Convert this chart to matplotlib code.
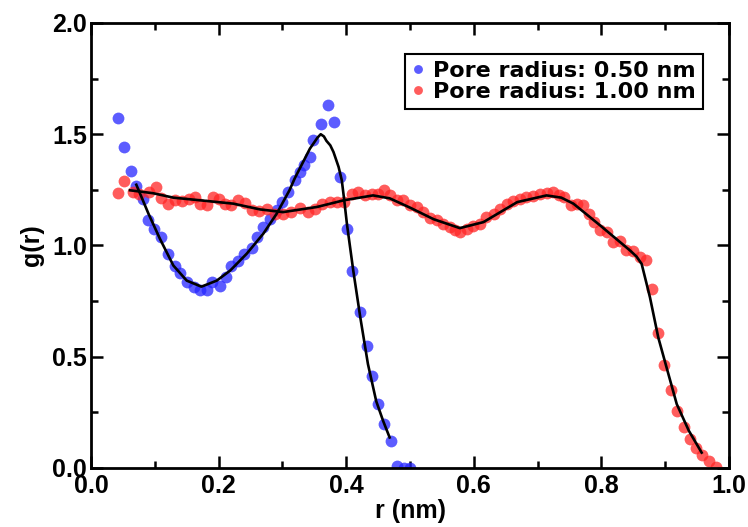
import matplotlib
matplotlib.use("Agg")
import matplotlib.pyplot as plt
from matplotlib.ticker import MultipleLocator, FormatStrFormatter

plt.rcParams['font.family'] = ['Liberation Sans', 'DejaVu Sans']
plt.rcParams['font.weight'] = 'bold'

# Pore radius 0.50 nm : data points
r_blue = [0.042, 0.051, 0.062, 0.071, 0.082, 0.090, 0.098, 0.110, 0.121, 0.131,
          0.140, 0.150, 0.161, 0.171, 0.182, 0.190, 0.202, 0.211, 0.220, 0.231,
          0.240, 0.252, 0.260, 0.269, 0.281, 0.291, 0.300, 0.309, 0.319, 0.327,
          0.333, 0.343, 0.348, 0.360, 0.372, 0.381, 0.390, 0.401, 0.409, 0.421,
          0.432, 0.440, 0.450, 0.459, 0.470, 0.479, 0.490, 0.500]
g_blue = [1.575, 1.443, 1.335, 1.266, 1.210, 1.113, 1.075, 1.037, 0.963, 0.910,
          0.875, 0.835, 0.812, 0.802, 0.802, 0.835, 0.817, 0.857, 0.910, 0.932,
          0.963, 0.990, 1.037, 1.082, 1.120, 1.158, 1.195, 1.240, 1.295, 1.330,
          1.360, 1.398, 1.473, 1.548, 1.631, 1.553, 1.308, 1.075, 0.887, 0.700,
          0.546, 0.414, 0.287, 0.197, 0.122, 0.009, 0.002, 0.002]

# Pore radius 1.00 nm : data points
r_red = [0.042, 0.051, 0.066, 0.075, 0.091, 0.102, 0.109, 0.121, 0.132, 0.142,
         0.153, 0.163, 0.171, 0.181, 0.191, 0.201, 0.210, 0.220, 0.231, 0.241,
         0.252, 0.263, 0.276, 0.289, 0.301, 0.314, 0.327, 0.340, 0.351, 0.362,
         0.375, 0.385, 0.396, 0.409, 0.419, 0.429, 0.440, 0.450, 0.459, 0.468,
         0.479, 0.489, 0.500, 0.511, 0.521, 0.532, 0.542, 0.552, 0.562, 0.570,
         0.578, 0.589, 0.599, 0.610, 0.619, 0.631, 0.641, 0.652, 0.662, 0.673,
         0.682, 0.693, 0.703, 0.714, 0.724, 0.734, 0.742, 0.752, 0.762, 0.771,
         0.780, 0.789, 0.798, 0.809, 0.818, 0.829, 0.839, 0.849, 0.860, 0.870,
         0.879, 0.889, 0.898, 0.909, 0.918, 0.929, 0.938, 0.948, 0.958, 0.968,
         0.979]
g_red = [1.237, 1.288, 1.240, 1.233, 1.240, 1.263, 1.213, 1.188, 1.203, 1.198,
         1.210, 1.218, 1.188, 1.183, 1.218, 1.210, 1.188, 1.183, 1.203, 1.192,
         1.160, 1.155, 1.165, 1.143, 1.143, 1.150, 1.168, 1.150, 1.165, 1.188,
         1.195, 1.195, 1.195, 1.233, 1.240, 1.225, 1.233, 1.233, 1.248, 1.225,
         1.203, 1.203, 1.180, 1.173, 1.150, 1.123, 1.113, 1.097, 1.082, 1.068,
         1.060, 1.075, 1.087, 1.097, 1.128, 1.143, 1.165, 1.188, 1.198, 1.210,
         1.218, 1.222, 1.233, 1.238, 1.240, 1.228, 1.218, 1.183, 1.188, 1.180,
         1.140, 1.105, 1.070, 1.060, 1.015, 1.022, 0.980, 0.975, 0.950, 0.935,
         0.805, 0.605, 0.464, 0.350, 0.254, 0.185, 0.129, 0.089, 0.058, 0.030,
         0.003]

# Fitted curves (black lines)
r_fit_blue = [0.071, 0.090, 0.108, 0.129, 0.150, 0.173, 0.197, 0.218, 0.244, 0.270,
              0.291, 0.311, 0.319, 0.343, 0.355, 0.360, 0.365, 0.369, 0.375, 0.380,
              0.388, 0.393, 0.397, 0.401, 0.411, 0.422, 0.434, 0.447, 0.458, 0.468]
g_fit_blue = [1.273, 1.143, 1.030, 0.910, 0.842, 0.815, 0.842, 0.887, 0.963, 1.053,
              1.143, 1.248, 1.300, 1.435, 1.485, 1.500, 1.490, 1.470, 1.450, 1.420,
              1.353, 1.293, 1.200, 1.098, 0.887, 0.677, 0.467, 0.300, 0.210, 0.137]

r_fit_red = [0.061, 0.097, 0.129, 0.171, 0.223, 0.265, 0.301, 0.354, 0.396, 0.442,
             0.468, 0.500, 0.537, 0.578, 0.615, 0.668, 0.714, 0.737, 0.756, 0.798,
             0.845, 0.855, 0.863, 0.876, 0.889, 0.902, 0.918, 0.937, 0.957]
g_fit_red = [1.248, 1.235, 1.215, 1.203, 1.188, 1.162, 1.150, 1.173, 1.203, 1.225,
             1.212, 1.170, 1.118, 1.078, 1.105, 1.195, 1.225, 1.215, 1.188, 1.090,
             0.977, 0.950, 0.917, 0.767, 0.587, 0.452, 0.287, 0.167, 0.069]

labels = ["Pore radius: 0.50 nm", "Pore radius: 1.00 nm"]

fig = plt.figure(figsize=(7.48, 5.27), dpi=100)
ax = fig.add_axes([0.1217, 0.112, 0.853, 0.8444])

ax.plot(r_blue, g_blue, 'o', color=(0.15, 0.15, 1.0), alpha=0.75, ms=8.5, mew=0,
        label=labels[0], zorder=2)
ax.plot(r_red, g_red, 'o', color=(1.0, 0.15, 0.15), alpha=0.75, ms=8.5, mew=0,
        label=labels[1], zorder=2)
ax.plot(r_fit_blue, g_fit_blue, '-', color='black', lw=1.9, zorder=3,
        solid_joinstyle='round')
ax.plot(r_fit_red, g_fit_red, '-', color='black', lw=1.9, zorder=3,
        solid_joinstyle='round')

ax.set_xlim(0, 1.0)
ax.set_ylim(0, 2.0)
ax.xaxis.set_major_locator(MultipleLocator(0.2))
ax.xaxis.set_minor_locator(MultipleLocator(0.1))
ax.yaxis.set_major_locator(MultipleLocator(0.5))
ax.yaxis.set_minor_locator(MultipleLocator(0.25))
ax.xaxis.set_major_formatter(FormatStrFormatter('%.1f'))
ax.yaxis.set_major_formatter(FormatStrFormatter('%.1f'))

ax.tick_params(which='both', direction='in', top=True, right=True, width=1.8)
ax.tick_params(which='major', length=8.5, labelsize=18)
ax.tick_params(axis='x', which='major', pad=4)
ax.tick_params(axis='y', which='major', pad=3)
ax.tick_params(which='minor', length=5)
for lab in ax.get_xticklabels() + ax.get_yticklabels():
    lab.set_fontweight('bold')
for sp in ax.spines.values():
    sp.set_linewidth(2.0)

ax.set_xlabel("r (nm)", fontsize=18, fontweight='bold', labelpad=1)
ax.set_ylabel("g(r)", fontsize=18, fontweight='bold', labelpad=6)

leg = ax.legend(loc='upper right', bbox_to_anchor=(0.959, 0.930),
                frameon=True, fancybox=False, edgecolor='black', framealpha=1,
                handlelength=0.6, handletextpad=0.4, labelspacing=0.05,
                borderpad=0.3, borderaxespad=0, markerscale=0.75,
                prop={'family': ['DejaVu Sans'], 'weight': 'bold', 'size': 16})
leg.get_frame().set_linewidth(1.5)

fig.savefig("out.png", dpi=100)
